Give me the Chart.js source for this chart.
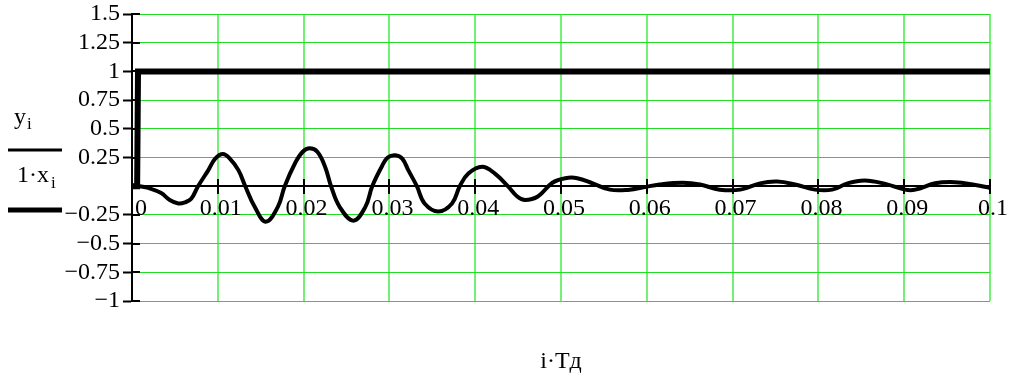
<!DOCTYPE html>
<html><head><meta charset="utf-8">
<script src="https://cdn.jsdelivr.net/npm/chart.js@4/dist/chart.umd.min.js"></script>
<style>html,body{margin:0;padding:0;background:#fff}</style>
</head><body>
<canvas id="c" width="1011" height="374"></canvas>
<script>
const timeY = [0, 0.0009, 0.0019, 0.0034, 0.0044, 0.0054, 0.0062, 0.0069, 0.0077, 0.0089, 0.0097, 0.0106, 0.0114, 0.0124, 0.0132, 0.0143, 0.0156, 0.0170, 0.0178, 0.0190, 0.0199, 0.0207, 0.0216, 0.0225, 0.0232, 0.0242, 0.0258, 0.0272, 0.0280, 0.0291, 0.0298, 0.0307, 0.0315, 0.0322, 0.0332, 0.0341, 0.0357, 0.0373, 0.0382, 0.0392, 0.0408, 0.0423, 0.0438, 0.0449, 0.0458, 0.0473, 0.0490, 0.0505, 0.0519, 0.0537, 0.0557, 0.0580, 0.0596, 0.0615, 0.0642, 0.0662, 0.0685, 0.0709, 0.0732, 0.0752, 0.0773, 0.0796, 0.0816, 0.0834, 0.0854, 0.0878, 0.0901, 0.0913, 0.0936, 0.0959, 0.0983, 0.1];
const valuesY = [0, 0, -0.015, -0.06, -0.12, -0.15, -0.14, -0.11, 0, 0.14, 0.24, 0.28, 0.24, 0.14, 0, -0.18, -0.31, -0.18, 0, 0.2, 0.3, 0.33, 0.3, 0.17, 0, -0.18, -0.30, -0.18, 0, 0.17, 0.25, 0.27, 0.24, 0.14, 0, -0.15, -0.22, -0.15, 0, 0.11, 0.17, 0.11, 0, -0.09, -0.12, -0.09, 0.03, 0.07, 0.07, 0.025, -0.03, -0.03, -0.01, 0.015, 0.03, 0.015, -0.03, -0.03, 0.025, 0.04, 0.015, -0.03, -0.03, 0.025, 0.05, 0.02, -0.03, -0.03, 0.025, 0.035, 0.01, -0.015];
const timeX = [0, 0.0006, 0.0007, 0.1];
const valuesX = [0, 0, 1, 1];
const xTickValues = [0, 0.01, 0.02, 0.03, 0.04, 0.05, 0.06, 0.07, 0.08, 0.09, 0.1];
const xTickLabels = ['\u00a0\u00a00', '0.01', '0.02', '0.03', '0.04', '0.05', '0.06', '0.07', '0.08', '0.09', '0.1'];
const yTickValues = [-1, -0.75, -0.5, -0.25, 0, 0.25, 0.5, 0.75, 1, 1.25, 1.5];
const yTickLabels = ['\u22121', '\u22120.75', '\u22120.5', '\u22120.25', '', '0.25', '0.5', '0.75', '1', '1.25', '1.5'];
const xTitle = 'i\u00b7T\u0434';

const FONT = '"Liberation Serif", "Times New Roman", serif';

const extras = {
  id: 'extras',
  beforeDatasetsDraw(chart) {
    const ctx = chart.ctx, xs = chart.scales.x, ys = chart.scales.y;
    const y0 = Math.round(ys.getPixelForValue(0)), x0 = Math.round(xs.getPixelForValue(0));
    ctx.save();
    ctx.strokeStyle = '#000'; ctx.lineWidth = 2;
    ctx.beginPath();
    ys.ticks.forEach(t => { if (t.value === 0) return; const p = Math.round(ys.getPixelForValue(t.value)); ctx.moveTo(x0, p); ctx.lineTo(x0 + 8, p); });
    xs.ticks.forEach(t => { const p = Math.round(xs.getPixelForValue(t.value)); ctx.moveTo(p, y0 - 7); ctx.lineTo(p, y0); });
    ctx.stroke();
    ctx.restore();
  },
  afterDraw(chart) {
    const ctx = chart.ctx, ca = chart.chartArea;
    ctx.save();
    ctx.fillStyle = '#000'; ctx.strokeStyle = '#000';
    ctx.textBaseline = 'alphabetic'; ctx.textAlign = 'left';
    ctx.font = '24px ' + FONT;
    ctx.fillText('y', 14, 124);
    ctx.font = '17px ' + FONT;
    ctx.fillText('i', 27, 129);
    ctx.lineWidth = 3;
    ctx.beginPath(); ctx.moveTo(8, 150); ctx.lineTo(62, 150); ctx.stroke();
    ctx.font = '24px ' + FONT;
    ctx.fillText('1\u00b7x', 17, 182);
    ctx.font = '17px ' + FONT;
    ctx.fillText('i', 51, 188);
    ctx.lineWidth = 5;
    ctx.beginPath(); ctx.moveTo(8, 210); ctx.lineTo(62, 210); ctx.stroke();
    ctx.font = '24px ' + FONT;
    ctx.textAlign = 'center';
    ctx.fillText(xTitle, (ca.left + ca.right) / 2, 368);
    ctx.restore();
  }
};

new Chart(document.getElementById('c'), {
  type: 'line',
  data: {
    datasets: [
      { label: 'y', data: timeY.map((t, i) => ({ x: t, y: valuesY[i] })), borderColor: '#000', borderWidth: 4, pointRadius: 0, tension: 0.4, fill: false },
      { label: '1·x', data: timeX.map((t, i) => ({ x: t, y: valuesX[i] })), borderColor: '#000', borderWidth: 6, pointRadius: 0, tension: 0, fill: false }
    ]
  },
  options: {
    responsive: false, animation: false, devicePixelRatio: 1,
    layout: { padding: { left: 0, right: 21, top: 14, bottom: 73 } },
    plugins: { legend: { display: false }, tooltip: { enabled: false }, title: { display: false } },
    scales: {
      x: {
        type: 'linear', min: 0, max: 0.1, position: { y: 0 },
        afterBuildTicks: s => { s.ticks = xTickValues.map(v => ({ value: v })); },
        afterFit: s => { s.height = 0; s.paddingLeft = 0; s.paddingRight = 0; },
        ticks: { callback: (v, i) => xTickLabels[i], font: { family: FONT, size: 24 }, color: '#000', padding: 1, maxRotation: 0, minRotation: 0, autoSkip: false, labelOffset: 3 },
        grid: { color: '#74f074', lineWidth: 2, tickColor: '#000', tickLength: 7, tickWidth: 2 },
        border: { color: '#000', width: 2 }
      },
      y: {
        type: 'linear', min: -1, max: 1.5,
        afterBuildTicks: s => { s.ticks = yTickValues.map(v => ({ value: v })); },
        afterFit: s => { s.width = 132; s.paddingTop = 0; s.paddingBottom = 0; },
        ticks: { callback: (v, i) => yTickLabels[i], font: { family: FONT, size: 24 }, color: '#000', padding: 3, autoSkip: false },
        grid: { color: c => (c.tick && c.tick.value === 0) ? 'rgba(0,0,0,0)' : '#22dd22', lineWidth: 1, tickColor: c => (c.tick && c.tick.value === 0) ? 'rgba(0,0,0,0)' : '#000', tickLength: 9, tickWidth: 2 },
        border: { color: '#000', width: 2 }
      }
    }
  },
  plugins: [extras]
});
</script>
</body></html>
